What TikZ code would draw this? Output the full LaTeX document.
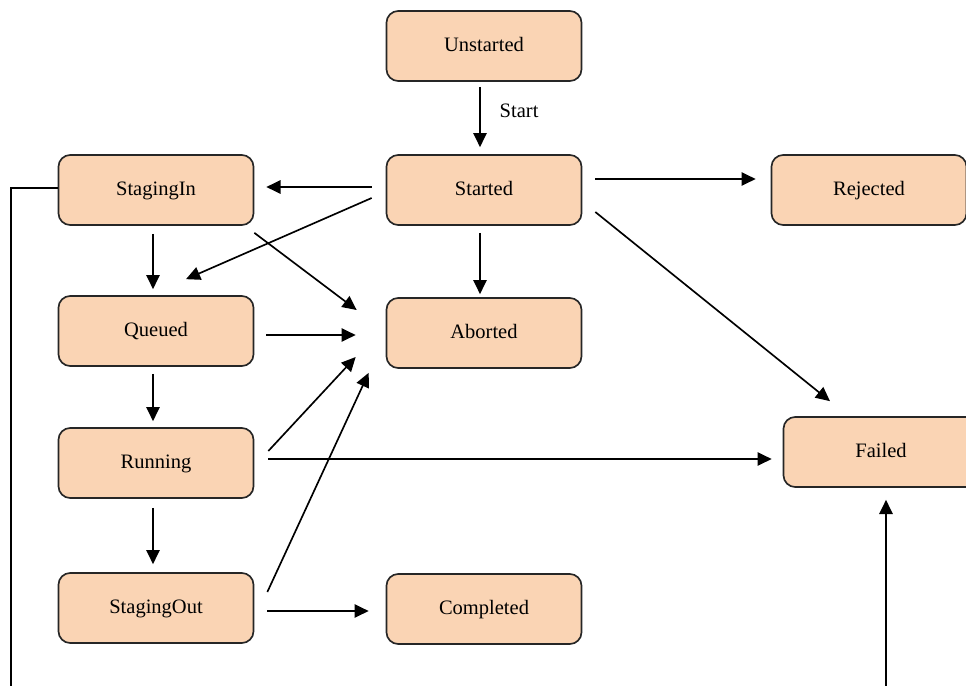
\documentclass[tikz,border=0pt]{standalone}
\usepackage{fontspec}
\setmainfont{Liberation Serif}
\usepackage{tikz}
\usetikzlibrary{calc}
\usetikzlibrary{arrows.meta}

\definecolor{statefill}{RGB}{250,212,180}

\begin{document}
\begin{tikzpicture}[x=0.6pt,y=-0.6pt,
	state/.style={draw=black!85, line width=1pt, fill=statefill, rounded corners=7pt,
		minimum width=117pt, minimum height=42pt, inner sep=0pt, text depth=1.5pt,
		font=\fontsize{12.3}{14}\selectfont},
	trans/.style={line width=1pt, -{Triangle[length=8.5pt,width=8pt]}},
	wire/.style={line width=1pt}]

	\useasboundingbox (0,0) rectangle (966,685);

	\node[state] (unstarted) at (484,46) {Unstarted};
	\node[state] (started) at (484,190) {Started};
	\node[state] (rejected) at (869,190) {Rejected};
	\node[state] (stagingin) at (156,190) {StagingIn};
	\node[state] (queued) at (156,331) {Queued};
	\node[state] (aborted) at (484,333) {Aborted};
	\node[state] (running) at (156,463) {Running};
	\node[state] (failed) at (881,452) {Failed};
	\node[state] (stagingout) at (156,608) {StagingOut};
	\node[state] (completed) at (484,609) {Completed};

	\coordinate (leftend) at (11,700);
	\coordinate (failin) at (886,700);

	\draw[trans] ($(unstarted.south)+(-4,5)$) -- ($(started.north)+(-4,-7)$)
		node[pos=0.39, right=8pt, font=\fontsize{12.3}{14}\selectfont] (startlbl) {Start};

	\draw[trans] ($(started.west)+(-14,-3)$) -- ($(stagingin.east)+(12,-3)$);

	\draw[trans] ($(started.west)+(-14,8)$) -- ($(queued.north)+(30,-16)$);

	\draw[trans] ($(stagingin.south)+(-3,8)$) -- ($(queued.north)+(-3,-6)$);

	\draw[trans] ($(stagingin.south east)+(0,7)$) -- ($(aborted.west)+(-29,-23)$);

	\draw[trans] ($(started.south)+(-4,7)$) -- ($(aborted.north)+(-4,-3)$);

	\draw[trans] ($(started.east)+(13,-11)$) -- ($(rejected.west)+(-15,-11)$);

	\draw[trans] ($(started.east)+(13,22)$) -- ($(failed.north)+(-51,-15)$);

	\draw[trans] ($(queued.east)+(12,4)$) -- ($(aborted.west)+(-30,2)$);

	\draw[trans] ($(queued.south)+(-3,7)$) -- ($(running.north)+(-3,-6)$);

	\draw[trans] ($(running.east)+(14,-12)$) -- ($(aborted.west)+(-30,24)$);

	\draw[trans] ($(running.east)+(14,-4)$) -- ($(failed.west)+(-11,7)$);

	\draw[trans] ($(running.south)+(-3,9)$) -- ($(stagingout.north)+(-3,-8)$);

	\draw[trans] ($(stagingout.east)+(13,-16)$) -- ($(aborted.south west)+(-17,4)$);

	\draw[trans] ($(stagingout.east)+(13,3)$) -- ($(completed.west)+(-17,2)$);

	\draw[wire] ($(stagingin.west)+(0,-2)$) -| (leftend);

	\draw[trans] (failin) -- ($(failed.south)+(5,12)$);

\end{tikzpicture}
\end{document}
